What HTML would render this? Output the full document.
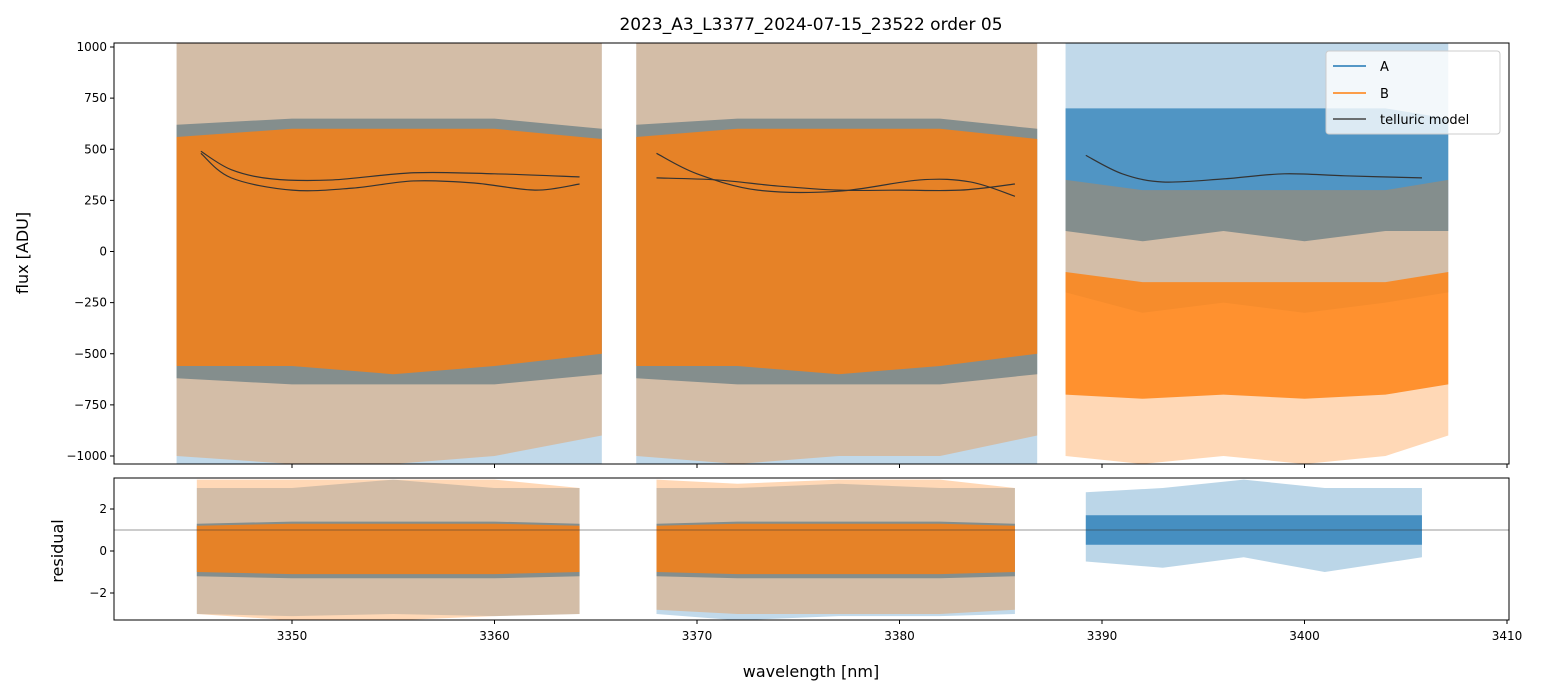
<!DOCTYPE html>
<html><head><meta charset="utf-8"><style>
body{margin:0;background:#fff;}
svg{display:block;font-family:"DejaVu Sans","Liberation Sans",sans-serif;}
</style></head><body>
<svg id="chart" width="1541" height="696" xmlns="http://www.w3.org/2000/svg">
<rect width="1541" height="696" fill="#fff"/>
<text x="811" y="30" font-size="17" text-anchor="middle">2023_A3_L3377_2024-07-15_23522  order 05</text>
<text x="0" y="0" font-size="16" text-anchor="middle" transform="translate(28,253) rotate(-90)">flux [ADU]</text>
<text x="0" y="0" font-size="16" text-anchor="middle" transform="translate(63,551) rotate(-90)">residual</text>
<text x="811" y="677" font-size="16" text-anchor="middle">wavelength [nm]</text>
</svg>
<script>
// ---- data (envelopes) ----
const seg1Wl=[3344.3,3350,3355,3360,3365.3];
const seg2Wl=[3367.0,3372,3377,3382,3386.8];
const seg3Wl=[3388.2,3392,3396,3400,3404,3407.1];
const seg1AHi=[1019,1019,1019,1019,1019], seg1ALo=[-1039,-1039,-1039,-1039,-1039];
const seg1ACoreHi=[620,650,650,650,600], seg1ACoreLo=[-620,-650,-650,-650,-600];
const seg1BHi=[1019,1019,1019,1019,1019], seg1BLo=[-1000,-1039,-1039,-1000,-900];
const seg1BCoreHi=[560,600,600,600,550], seg1BCoreLo=[-560,-560,-600,-560,-500];
const seg2AHi=[1019,1019,1019,1019,1019], seg2ALo=[-1039,-1039,-1039,-1039,-1039];
const seg2ACoreHi=[620,650,650,650,600], seg2ACoreLo=[-620,-650,-650,-650,-600];
const seg2BHi=[1019,1019,1019,1019,1019], seg2BLo=[-1000,-1039,-1000,-1000,-900];
const seg2BCoreHi=[560,600,600,600,550], seg2BCoreLo=[-560,-560,-600,-560,-500];
const seg3AHi=[1019,1019,1019,1019,1019,1019], seg3ALo=[-200,-300,-250,-300,-250,-200];
const seg3ACoreHi=[700,700,700,700,700,650], seg3ACoreLo=[100,50,100,50,100,100];
const seg3BHi=[350,300,300,300,300,350], seg3BLo=[-1000,-1039,-1000,-1039,-1000,-900];
const seg3BCoreHi=[-100,-150,-150,-150,-150,-100], seg3BCoreLo=[-700,-720,-700,-720,-700,-650];
// telluric model curves
const tell1aWl=[3345.5,3347,3349,3352,3356,3360,3364.2], tell1a=[490,400,355,350,385,380,365];
const tell1bWl=[3345.5,3347,3350,3353,3356,3359,3362,3364.2], tell1b=[480,360,300,310,345,335,300,330];
const tell2aWl=[3368,3370,3373,3377,3381,3383.5,3385.7], tell2a=[480,380,300,295,350,340,270];
const tell2bWl=[3368,3371,3374,3377,3380,3383,3385.7], tell2b=[360,350,320,300,300,300,330];
const tell3Wl=[3389.2,3391,3393,3396,3399,3402,3405.8], tell3=[470,380,340,355,380,370,360];
// residuals
const r1Wl=[3345.3,3350,3355,3360,3364.2];
const r1AHi=[3,3,3.4,3,3], r1ALo=[-3,-3.1,-3,-3.1,-3], r1ACoreHi=[1.3,1.4,1.4,1.4,1.3], r1ACoreLo=[-1.2,-1.3,-1.3,-1.3,-1.2];
const r1BHi=[3.4,3.4,3.4,3.4,3], r1BLo=[-3,-3.3,-3.3,-3.1,-3], r1BCoreHi=[1.2,1.3,1.3,1.3,1.2], r1BCoreLo=[-1,-1.1,-1.1,-1.1,-1];
const r2Wl=[3368,3372,3377,3382,3385.7];
const r2AHi=[3,3,3.2,3,3], r2ALo=[-3,-3.3,-3.1,-3.1,-3], r2ACoreHi=[1.3,1.4,1.4,1.4,1.3], r2ACoreLo=[-1.2,-1.3,-1.3,-1.3,-1.2];
const r2BHi=[3.4,3.2,3.4,3.4,3], r2BLo=[-2.8,-3,-3,-3,-2.8], r2BCoreHi=[1.2,1.3,1.3,1.3,1.2], r2BCoreLo=[-1,-1.1,-1.1,-1.1,-1];
const r3Wl=[3389.2,3393,3397,3401,3405.8];
const r3AHi=[2.8,3,3.4,3,3], r3ALo=[-0.5,-0.8,-0.3,-1,-0.3], r3ACoreHi=[1.7,1.7,1.7,1.7,1.7], r3ACoreLo=[0.3,0.3,0.3,0.3,0.3];
const xTicks=[3350,3360,3370,3380,3390,3400,3410];
const yTicks=[-1000,-750,-500,-250,0,250,500,750,1000];
const rTicks=[-2,0,2];

// ---- axes ----
const L=114,R=1509,MT=43,MB=464,RT=478,RB=620;
const xs=w=>292+(w-3350)*20.25;
const ys=v=>251.5-v*(409/2000);
const rs=v=>551-v*21;
const NS="http://www.w3.org/2000/svg";
const svg=document.getElementById('chart');
function mk(t,a,p){const e=document.createElementNS(NS,t);for(const k in a)e.setAttribute(k,a[k]);(p||svg).appendChild(e);return e;}
const defs=mk('defs',{});
const c1=mk('clipPath',{id:'cm'},defs);mk('rect',{x:L,y:MT,width:R-L,height:MB-MT},c1);
const c2=mk('clipPath',{id:'cr'},defs);mk('rect',{x:L,y:RT,width:R-L,height:RB-RT},c2);
const gm=mk('g',{'clip-path':'url(#cm)'});
const gr=mk('g',{'clip-path':'url(#cr)'});
function smooth(pts){
  let d='M'+pts[0][0]+','+pts[0][1];
  for(let i=0;i<pts.length-1;i++){
    const p0=pts[Math.max(i-1,0)],p1=pts[i],p2=pts[i+1],p3=pts[Math.min(i+2,pts.length-1)];
    d+=' C'+(p1[0]+(p2[0]-p0[0])/6)+','+(p1[1]+(p2[1]-p0[1])/6)+' '+(p2[0]-(p3[0]-p1[0])/6)+','+(p2[1]-(p3[1]-p1[1])/6)+' '+p2[0]+','+p2[1];
  }
  return d;
}
function band(g,wl,hi,lo,sc,col,op,name){
  let pts=wl.map((w,i)=>xs(w)+','+sc(hi[i]));
  pts=pts.concat(wl.map((w,i)=>xs(w)+','+sc(lo[i])).reverse());
  const p=mk('polygon',{points:pts.join(' '),fill:col,'fill-opacity':op},g);
  
  
}
function line(g,wl,v,sc,col,w,name){
  const p=mk('path',{d:smooth(wl.map((x,i)=>[xs(x),sc(v[i])])),fill:'none',stroke:col,'stroke-width':w},g);
  
  
}
const BL='#1f77b4',OR='#ff7f0e';
[[seg1Wl,seg1AHi,seg1ALo,seg1ACoreHi,seg1ACoreLo,seg1BHi,seg1BLo,seg1BCoreHi,seg1BCoreLo,1],
 [seg2Wl,seg2AHi,seg2ALo,seg2ACoreHi,seg2ACoreLo,seg2BHi,seg2BLo,seg2BCoreHi,seg2BCoreLo,2],
 [seg3Wl,seg3AHi,seg3ALo,seg3ACoreHi,seg3ACoreLo,seg3BHi,seg3BLo,seg3BCoreHi,seg3BCoreLo,3]].forEach(s=>{
  band(gm,s[0],s[1],s[2],ys,BL,0.28,'a-envelope-seg'+s[9]);
  band(gm,s[0],s[3],s[4],ys,BL,0.7,'a-core-seg'+s[9]);
  band(gm,s[0],s[5],s[6],ys,OR,0.3,'b-envelope-seg'+s[9]);
  band(gm,s[0],s[7],s[8],ys,OR,0.8,'b-core-seg'+s[9]);
});
line(gm,tell1aWl,tell1a,ys,'#333',1.2,'telluric-seg1a');
line(gm,tell1bWl,tell1b,ys,'#333',1.2,'telluric-seg1b');
line(gm,tell2aWl,tell2a,ys,'#333',1.2,'telluric-seg2a');
line(gm,tell2bWl,tell2b,ys,'#333',1.2,'telluric-seg2b');
line(gm,tell3Wl,tell3,ys,'#333',1.2,'telluric-seg3');
band(gr,r1Wl,r1AHi,r1ALo,rs,BL,0.28,'resid-a-env-seg1');band(gr,r1Wl,r1ACoreHi,r1ACoreLo,rs,BL,0.7,'resid-a-core-seg1');
band(gr,r1Wl,r1BHi,r1BLo,rs,OR,0.3,'resid-b-env-seg1');band(gr,r1Wl,r1BCoreHi,r1BCoreLo,rs,OR,0.8,'resid-b-core-seg1');
band(gr,r2Wl,r2AHi,r2ALo,rs,BL,0.28,'resid-a-env-seg2');band(gr,r2Wl,r2ACoreHi,r2ACoreLo,rs,BL,0.7,'resid-a-core-seg2');
band(gr,r2Wl,r2BHi,r2BLo,rs,OR,0.3,'resid-b-env-seg2');band(gr,r2Wl,r2BCoreHi,r2BCoreLo,rs,OR,0.8,'resid-b-core-seg2');
band(gr,r3Wl,r3AHi,r3ALo,rs,BL,0.3,'resid-a-env-seg3');band(gr,r3Wl,r3ACoreHi,r3ACoreLo,rs,BL,0.75,'resid-a-core-seg3');
const ref=mk('line',{x1:L,x2:R,y1:rs(1),y2:rs(1),stroke:'#333','stroke-width':0.6},gr);


// frames
const f1=mk('rect',{x:L,y:MT,width:R-L,height:MB-MT,fill:'none',stroke:'#000','stroke-width':1});

const f2=mk('rect',{x:L,y:RT,width:R-L,height:RB-RT,fill:'none',stroke:'#000','stroke-width':1});

// ticks
xTicks.forEach(t=>{
  const x=xs(t);
  mk('line',{x1:x,x2:x,y1:MB,y2:MB+4,stroke:'#000'});
  mk('line',{x1:x,x2:x,y1:RB,y2:RB+4,stroke:'#000'});
  const tx=mk('text',{x:x,y:RB+20,'font-size':12,'text-anchor':'middle'});tx.textContent=t;
  
});
yTicks.forEach(t=>{
  const y=ys(t);
  mk('line',{x1:L-4,x2:L,y1:y,y2:y,stroke:'#000'});
  const tx=mk('text',{x:L-7,y:y+4,'font-size':12,'text-anchor':'end'});tx.textContent=String(t).replace('-','\u2212');
  
});
rTicks.forEach(t=>{
  const y=rs(t);
  mk('line',{x1:L-4,x2:L,y1:y,y2:y,stroke:'#000'});
  const tx=mk('text',{x:L-7,y:y+4,'font-size':12,'text-anchor':'end'});tx.textContent=String(t).replace('-','\u2212');
  
});
// legend
const lg=mk('g',{});

mk('rect',{x:1326,y:51,width:174,height:83,rx:3,fill:'#fff','fill-opacity':0.8,stroke:'#ccc'},lg);
[['A',BL,66],['B',OR,93],['telluric model','#444',119]].forEach(e=>{
  const l=mk('line',{x1:1333,x2:1366,y1:e[2],y2:e[2],stroke:e[1],'stroke-width':1.6},lg);
  
  const t=mk('text',{x:1380,y:e[2]+5,'font-size':13},lg);t.textContent=e[0];
  
});
</script>
</body></html>
